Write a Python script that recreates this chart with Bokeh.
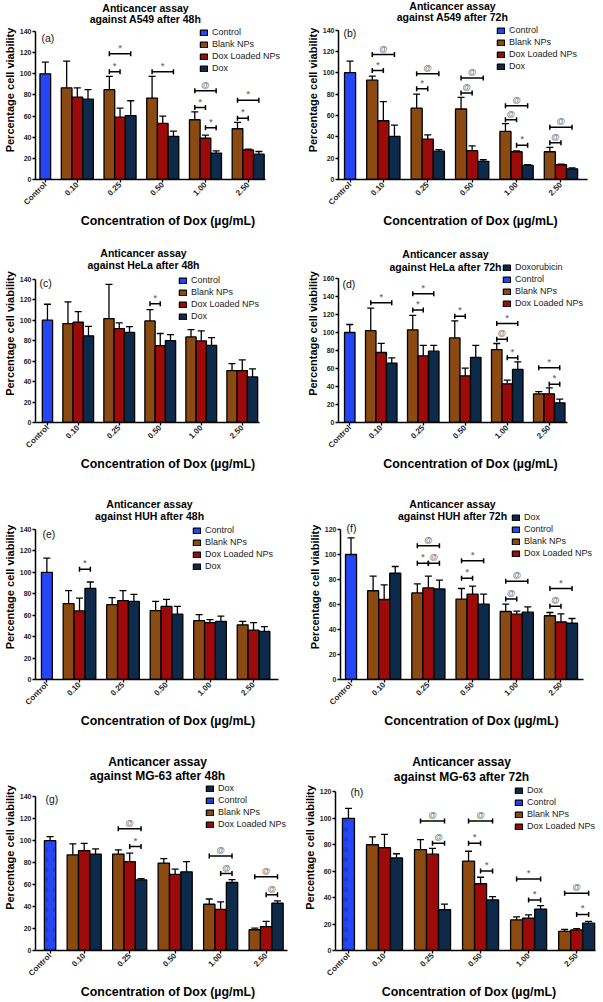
import math
from bokeh.plotting import figure
from bokeh.models import (Range1d, FixedTicker, ColumnDataSource, Whisker, TeeHead,
                          Legend, LegendItem, Label)
from bokeh.layouts import column, row
from bokeh.core.properties import value
from bokeh.embed import file_html
from bokeh.resources import INLINE

categories = ["Control", "0.10", "0.25", "0.50", "1.00", "2.50"]
series_names = ["Control", "Blank NPs", "Dox Loaded NPs", "Dox"]

# ---- (a) A549 48h ----
a_control = [100.0]; a_control_sd = [11.0]
a_blank = [86.7, 85.0, 77.0, 56.5, 48.0]; a_blank_sd = [25.3, 12.5, 20.5, 7.5, 6.0]
a_red = [78.0, 59.0, 53.0, 39.0, 28.0]; a_red_sd = [8.7, 8.5, 7.0, 3.0, 0.7]
a_dox = [76.0, 60.5, 40.7, 25.0, 24.0]; a_dox_sd = [9.0, 14.0, 5.0, 2.0, 2.5]
a_sig = [("0.25", "B", "D", 119, "*"), ("0.25", "B", "R", 102, "*"), ("0.50", "B", "D", 102, "*"),
         ("1.00", "B", "D", 84, "@"), ("1.00", "B", "R", 68, "*"), ("1.00", "R", "D", 49, "*"),
         ("2.50", "B", "D", 75, "*"), ("2.50", "B", "R", 58, "*")]

# ---- (b) A549 72h ----
b_control = [100.0]; b_control_sd = [10.8]
b_blank = [93.0, 66.8, 66.0, 45.0, 26.0]; b_blank_sd = [3.9, 13.2, 11.0, 7.3, 4.0]
b_red = [55.0, 37.8, 27.0, 26.0, 13.8]; b_red_sd = [17.9, 4.0, 4.4, 0.8, 0.5]
b_dox = [40.3, 26.5, 17.0, 13.2, 10.0]; b_dox_sd = [10.7, 1.5, 1.5, 0.8, 0.8]
b_sig = [("0.10", "B", "D", 117, "@"), ("0.10", "B", "R", 102, "*"), ("0.25", "B", "D", 99, "@"),
         ("0.25", "B", "R", 85, "*"), ("0.50", "B", "D", 95, "@"), ("0.50", "B", "R", 81, "@"),
         ("1.00", "B", "D", 69, "@"), ("1.00", "B", "R", 56, "@"), ("1.00", "R", "D", 32, "*"),
         ("2.50", "B", "D", 49, "@"), ("2.50", "B", "R", 34.5, "@")]

# ---- (c) HeLa 48h ----
c_control = [100.0]; c_control_sd = [15.6]
c_blank = [96.7, 101.6, 99.3, 83.7, 50.8]; c_blank_sd = [21.3, 33.4, 11.1, 7.1, 6.8]
c_red = [98.0, 91.8, 75.2, 79.8, 50.8]; c_red_sd = [10.4, 5.6, 11.8, 9.7, 10.4]
c_dox = [84.7, 88.2, 80.0, 75.5, 44.6]; c_dox_sd = [9.3, 5.6, 6.0, 7.5, 7.8]
c_sig = [("0.50", "B", "R", 116, "*")]

# ---- (d) HeLa 72h ----
d_control = [100.0]; d_control_sd = [8.9]
d_blank = [102.0, 103.0, 94.0, 81.0, 31.9]; d_blank_sd = [25.0, 16.0, 19.0, 6.8, 2.5]
d_red = [77.8, 74.0, 51.9, 43.0, 31.9]; d_red_sd = [10.2, 11.6, 8.5, 4.0, 6.6]
d_dox = [66.0, 79.3, 72.2, 59.0, 21.9]; d_dox_sd = [5.8, 6.3, 13.4, 8.4, 4.1]
d_sig = [("0.10", "B", "D", 133, "*"), ("0.25", "B", "D", 143, "*"), ("0.25", "B", "R", 125, "*"),
         ("0.50", "B", "R", 118, "*"), ("1.00", "B", "D", 110, "*"), ("1.00", "B", "R", 92.6, "@"),
         ("1.00", "R", "D", 72, "*"), ("2.50", "B", "D", 60.7, "*"), ("2.50", "R", "D", 42.6, "*")]

# ---- (e) HUH 48h ----
e_control = [100.0]; e_control_sd = [13.3]
e_blank = [70.8, 69.8, 64.2, 54.9, 51.0]; e_blank_sd = [12.2, 6.6, 8.8, 5.6, 3.3]
e_red = [64.0, 73.6, 68.3, 53.0, 46.0]; e_red_sd = [12.0, 9.4, 6.5, 2.8, 7.0]
e_dox = [85.0, 73.0, 61.0, 54.3, 45.0]; e_dox_sd = [6.0, 6.5, 7.3, 4.9, 4.3]
e_sig = [("0.10", "R", "D", 103, "*")]

# ---- (f) HUH 72h ----
f_control = [100.0]; f_control_sd = [13.3]
f_blank = [71.0, 69.3, 64.3, 54.4, 51.0]; f_blank_sd = [11.7, 7.2, 8.5, 5.9, 2.6]
f_red = [64.0, 73.3, 68.3, 52.3, 46.0]; f_red_sd = [11.7, 9.4, 6.4, 2.4, 6.5]
f_dox = [85.0, 72.5, 60.3, 53.9, 45.0]; f_dox_sd = [5.4, 7.0, 8.0, 4.2, 3.8]
f_sig = [("0.25", "B", "D", 107, "@"), ("0.25", "B", "R", 93, "*"), ("0.25", "R", "D", 93, "@"),
         ("0.50", "B", "D", 95, "*"), ("0.50", "B", "R", 81, "*"), ("1.00", "B", "D", 78.7, "@"),
         ("1.00", "B", "R", 64.5, "@"), ("2.50", "B", "D", 72.8, "*"), ("2.50", "B", "R", 58.7, "@")]

# ---- (g) MG-63 48h ----
g_control = [100.0]; g_control_sd = [3.7]
g_blank = [87.0, 87.8, 79.6, 42.1, 18.9]; g_blank_sd = [10.0, 3.9, 4.1, 4.8, 1.4]
g_red = [91.0, 81.0, 69.3, 37.4, 21.8]; g_red_sd = [6.6, 7.7, 4.7, 6.8, 4.7]
g_dox = [87.8, 64.3, 71.6, 61.9, 43.0]; g_dox_sd = [4.7, 1.1, 9.4, 2.6, 2.1]
g_sig = [("0.25", "B", "D", 110.8, "@"), ("0.25", "R", "D", 94.6, "*"), ("1.00", "B", "D", 86, "@"),
         ("1.00", "R", "D", 70, "@"), ("2.50", "B", "D", 67.2, "@"), ("2.50", "R", "D", 50.7, "@")]

# ---- (h) MG-63 72h ----
h_control = [100.0]; h_control_sd = [7.6]
h_blank = [80.0, 76.3, 67.6, 23.2, 14.4]; h_blank_sd = [5.9, 7.6, 7.5, 2.2, 1.5]
h_red = [77.8, 72.9, 50.5, 24.4, 15.6]; h_red_sd = [10.0, 4.4, 4.9, 2.6, 1.0]
h_dox = [70.0, 31.0, 38.3, 31.2, 20.7]; h_dox_sd = [3.2, 4.1, 2.4, 2.7, 1.3]
h_sig = [("0.25", "B", "D", 98, "@"), ("0.25", "R", "D", 81.2, "@"), ("0.50", "B", "D", 98, "@"),
         ("0.50", "B", "R", 81.2, "*"), ("0.50", "R", "D", 60.2, "*"), ("1.00", "B", "D", 54.1, "*"),
         ("1.00", "R", "D", 38.3, "*"), ("2.50", "B", "D", 43.4, "@"), ("2.50", "R", "D", 27.3, "*")]

COL = {"Control": "#2446f4", "Blank NPs": "#8a4a12", "Dox Loaded NPs": "#9c0a0a", "Dox": "#0d2a4b"}
FONT = "Liberation Sans"
OFF = {"B": -1, "R": 0, "D": 1}
LEG_H = 46

ORDER1 = ["Control", "Blank NPs", "Dox Loaded NPs", "Dox"]
ORDER2 = ["Dox", "Control", "Blank NPs", "Dox Loaded NPs"]

LC = (300, 0, 1.0)      # left column: width, x0, scale
RC = (302, 300, 1.0)    # right column
ROW1, ROW2, ROW3, ROW4 = (0, 244), (244, 250), (494, 250), (744, 257)

panels = [
    dict(letter="(a)", lpos=(38, 31, "left"), t1="Anticancer assay", t2="against A549 after 48h", tc=(142, 7, 18),
         tsize="10.5px", ymax=140,
         data=(a_control, a_control_sd, a_blank, a_blank_sd, a_red, a_red_sd, a_dox, a_dox_sd), sig=a_sig,
         order=ORDER1, doxlab="Dox", col=LC, row=ROW1, geo=(32, 265, 179, 31, 36.5, 10.8), leg=(196, 27)),
    dict(letter="(b)", lpos=(343, 29, "left"), t1="Anticancer assay", t2="against A549 after 72h", tc=(452, 8, 19),
         tsize="10.5px", ymax=140,
         data=(b_control, b_control_sd, b_blank, b_blank_sd, b_red, b_red_sd, b_dox, b_dox_sd), sig=b_sig,
         order=ORDER1, doxlab="Dox", col=RC, row=ROW1, geo=(338, 587, 182, 30, 344, 11.1), leg=(496, 28)),
    dict(letter="(c)", lpos=(35, 277, "left"), t1="Anticancer assay", t2="against HeLa after 48h", tc=(139, 253, 265),
         tsize="10.5px", ymax=140,
         data=(c_control, c_control_sd, c_blank, c_blank_sd, c_red, c_red_sd, c_dox, c_dox_sd), sig=c_sig,
         order=ORDER1, doxlab="Dox", col=LC, row=ROW2, geo=(29, 258, 423, 279, 36, 10.5), leg=(174, 276)),
    dict(letter="(d)", lpos=(342, 277, "left"), t1="Anticancer assay", t2="against HeLa after 72h", tc=(445, 253, 266),
         tsize="10.5px", ymax=160,
         data=(d_control, d_control_sd, d_blank, d_blank_sd, d_red, d_red_sd, d_dox, d_dox_sd), sig=d_sig,
         order=ORDER2, doxlab="Doxorubicin", col=RC, row=ROW2, geo=(338, 567, 422, 278, 344, 10.5), leg=(502, 262)),
    dict(letter="(e)", lpos=(39, 527, "left"), t1="Anticancer assay", t2="against HUH after 48h", tc=(146, 503, 515),
         tsize="10.5px", ymax=140,
         data=(e_control, e_control_sd, e_blank, e_blank_sd, e_red, e_red_sd, e_dox, e_dox_sd), sig=e_sig,
         order=ORDER1, doxlab="Dox", col=LC, row=ROW3, geo=(32, 278, 679, 529, 38, 11.0), leg=(189, 525)),
    dict(letter="(f)", lpos=(351, 521, "center"), t1="Anticancer assay", t2="against HUH after 72h", tc=(452, 503, 515),
         tsize="10.5px", ymax=120,
         data=(f_control, f_control_sd, f_blank, f_blank_sd, f_red, f_red_sd, f_dox, f_dox_sd), sig=f_sig,
         order=ORDER2, doxlab="Dox", col=RC, row=ROW3, geo=(340, 583, 679, 529, 345, 11.05), leg=(511, 512)),
    dict(letter="(g)", lpos=(42, 799, "left"), t1="Anticancer assay", t2="against MG-63 after 48h", tc=(154, 768, 782),
         tsize="12px", ymax=140,
         data=(g_control, g_control_sd, g_blank, g_blank_sd, g_red, g_red_sd, g_dox, g_dox_sd), sig=g_sig,
         order=ORDER2, doxlab="Dox", col=LC, row=ROW4, geo=(32, 287, 957, 798, 41, 11.5), leg=(202, 790), dots=True),
    dict(letter="(h)", lpos=(348, 792, "left"), t1="Anticancer assay", t2="against MG-63 after 72h", tc=(459, 768, 783),
         tsize="12px", ymax=120,
         data=(h_control, h_control_sd, h_blank, h_blank_sd, h_red, h_red_sd, h_dox, h_dox_sd), sig=h_sig,
         order=ORDER2, doxlab="Dox", col=RC, row=ROW4, geo=(333, 595, 957, 793, 340, 12.1), leg=(512, 792), dots=True),
]


def add_err(p, xs, tops, sds):
    src = ColumnDataSource(dict(x=xs, lo=tops, hi=[t + s for t, s in zip(tops, sds)]))
    p.add_layout(Whisker(source=src, base="x", lower="lo", upper="hi", line_color="black", line_width=1.3,
                         upper_head=TeeHead(size=7, line_color="black", line_width=1.3),
                         lower_head=None, level="overlay"))


def make_panel(P):
    W, x0, sc = P["col"]
    y0, H = P["row"]
    L, R, B, T, cl, unit = P["geo"]
    ymax = P["ymax"]

    def fx(X):
        return (X - x0) * sc

    def fy(Y):
        return Y - y0

    Lf = max(fx(L), 31)
    Rf = fx(R)
    Bf = fy(B)
    Tf = fy(T)
    span_units = (R - L) / unit
    k = (Rf - Lf) / span_units
    s = 0.5 - (cl - L) / unit
    x_end = s + (W - Lf) / k
    x_axis_end = s + span_units
    y_end = ymax * Bf / (Bf - Tf)

    p = figure(width=W, height=H, output_backend="svg", toolbar_location=None,
               x_range=Range1d(s, x_end), y_range=Range1d(0, y_end),
               min_border_left=int(round(Lf)), min_border_right=0, min_border_top=0,
               min_border_bottom=int(round(H - Bf)))
    p.outline_line_color = None
    p.xgrid.visible = False
    p.ygrid.visible = False

    def scr(X, Y):
        return fx(X) - Lf, Bf - fy(Y)

    # title (two centred lines)
    tcx, ty1, ty2 = P["tc"]
    for txt, ty in ((P["t1"], ty1), (P["t2"], ty2)):
        sx_, sy_ = scr(tcx, ty)
        p.add_layout(Label(x=sx_, y=sy_, x_units="screen", y_units="screen", text=txt,
                           text_font=FONT, text_font_size=P["tsize"], text_font_style="bold",
                           text_color="black", text_align="center", text_baseline="middle"))

    ctrl, ctrl_sd, blank, blank_sd, red, red_sd, dox, dox_sd = P["data"]
    groups = categories[1:]
    centers = [4 * (i + 1) for i in range(len(groups))]
    xc = [1]
    xb = [c + OFF["B"] for c in centers]
    xr = [c + OFF["R"] for c in centers]
    xd = [c + OFF["D"] for c in centers]

    kw = dict(width=1.0, line_color="black", line_width=1.3)
    extra = {}
    if P.get("dots"):
        extra = dict(hatch_pattern="dot", hatch_color="#0a1a6a", hatch_alpha=0.25, hatch_scale=10, hatch_weight=1)
    r_c = p.vbar(x=xc, top=ctrl, fill_color=COL["Control"], **kw, **extra)
    r_b = p.vbar(x=xb, top=blank, fill_color=COL["Blank NPs"], **kw)
    r_r = p.vbar(x=xr, top=red, fill_color=COL["Dox Loaded NPs"], **kw)
    r_d = p.vbar(x=xd, top=dox, fill_color=COL["Dox"], **kw)
    add_err(p, xc, ctrl, ctrl_sd)
    add_err(p, xb, blank, blank_sd)
    add_err(p, xr, red, red_sd)
    add_err(p, xd, dox, dox_sd)

    # significance brackets
    gi = {g: c for g, c in zip(groups, centers)}
    x1 = [gi[q[0]] + OFF[q[1]] for q in P["sig"]]
    x2 = [gi[q[0]] + OFF[q[2]] for q in P["sig"]]
    ys = [q[3] for q in P["sig"]]
    txt = [q[4] for q in P["sig"]]
    ssrc = ColumnDataSource(dict(x1=x1, x2=x2, xm=[(a + b) / 2 for a, b in zip(x1, x2)], y=ys, txt=txt))
    p.add_layout(Whisker(source=ssrc, dimension="width", base="y", lower="x1", upper="x2",
                         line_color="black", line_width=1.5, level="overlay",
                         upper_head=TeeHead(size=5, line_color="black", line_width=1.5),
                         lower_head=TeeHead(size=5, line_color="black", line_width=1.5)))
    p.text(x="xm", y="y", text="txt", source=ssrc, text_align="center", text_baseline="bottom",
           y_offset=-1, text_font=value(FONT), text_font_size="8.5px", text_color="#7a7a7a",
           text_font_style="bold")

    # legend
    rmap = {"Control": r_c, "Blank NPs": r_b, "Dox Loaded NPs": r_r, "Dox": r_d}
    items = [LegendItem(label=(P["doxlab"] if kk == "Dox" else kk), renderers=[rmap[kk]]) for kk in P["order"]]
    lx, ly = P["leg"]
    lsx, lsy = scr(lx, ly + LEG_H)
    leg = Legend(items=items, location=(lsx, lsy), label_text_font=FONT, label_text_font_size="9px",
                 label_text_color="#222222", glyph_width=9, glyph_height=7, label_height=10,
                 spacing=2, padding=0, margin=0, label_standoff=4,
                 border_line_color=None, background_fill_alpha=0)
    p.add_layout(leg)

    # panel letter
    px_, py_, pal = P["lpos"]
    lsx2, lsy2 = scr(px_, py_)
    p.add_layout(Label(x=lsx2, y=lsy2, x_units="screen", y_units="screen", text=P["letter"], text_font=FONT,
                       text_font_size="10.5px", text_baseline="top", text_align=pal, text_color="#111111"))

    # axes
    ticks = [1] + centers
    p.xaxis.ticker = FixedTicker(ticks=ticks)
    p.xaxis.major_label_overrides = {tk: c for tk, c in zip(ticks, categories)}
    p.xaxis.major_label_orientation = math.pi / 4
    p.xaxis.bounds = (s, x_axis_end)
    p.yaxis.ticker = FixedTicker(ticks=list(range(0, ymax + 1, 20)))
    p.yaxis.bounds = (0, ymax)
    p.xaxis.axis_label = "Concentration of Dox (µg/mL)"
    p.yaxis.axis_label = "Percentage cell viability"
    for ax in (p.xaxis[0], p.yaxis[0]):
        ax.axis_line_width = 1.5
        ax.axis_line_color = "black"
        ax.major_tick_line_width = 1.3
        ax.major_tick_out = 3
        ax.major_tick_in = 0
        ax.minor_tick_line_color = None
        ax.major_label_text_font = FONT
        ax.major_label_text_font_style = "bold"
        ax.major_label_text_color = "#222222"
        ax.axis_label_text_font = FONT
        ax.axis_label_text_font_style = "bold"
        ax.axis_label_text_color = "black"
    p.xaxis.major_label_text_font_size = "8px"
    p.yaxis.major_label_text_font_size = "7px"
    p.xaxis.major_label_standoff = 1
    p.xaxis.axis_label_standoff = 1
    p.yaxis.major_label_standoff = 1
    p.yaxis.axis_label_standoff = 1
    p.xaxis.axis_label_text_font_size = "12.4px"
    p.yaxis.axis_label_text_font_size = "11px"
    return p


figs = [make_panel(P) for P in panels]
layout = column(row(figs[0], figs[1]), row(figs[2], figs[3]), row(figs[4], figs[5]), row(figs[6], figs[7]))
open("out.html", "w").write(file_html(layout, INLINE))
